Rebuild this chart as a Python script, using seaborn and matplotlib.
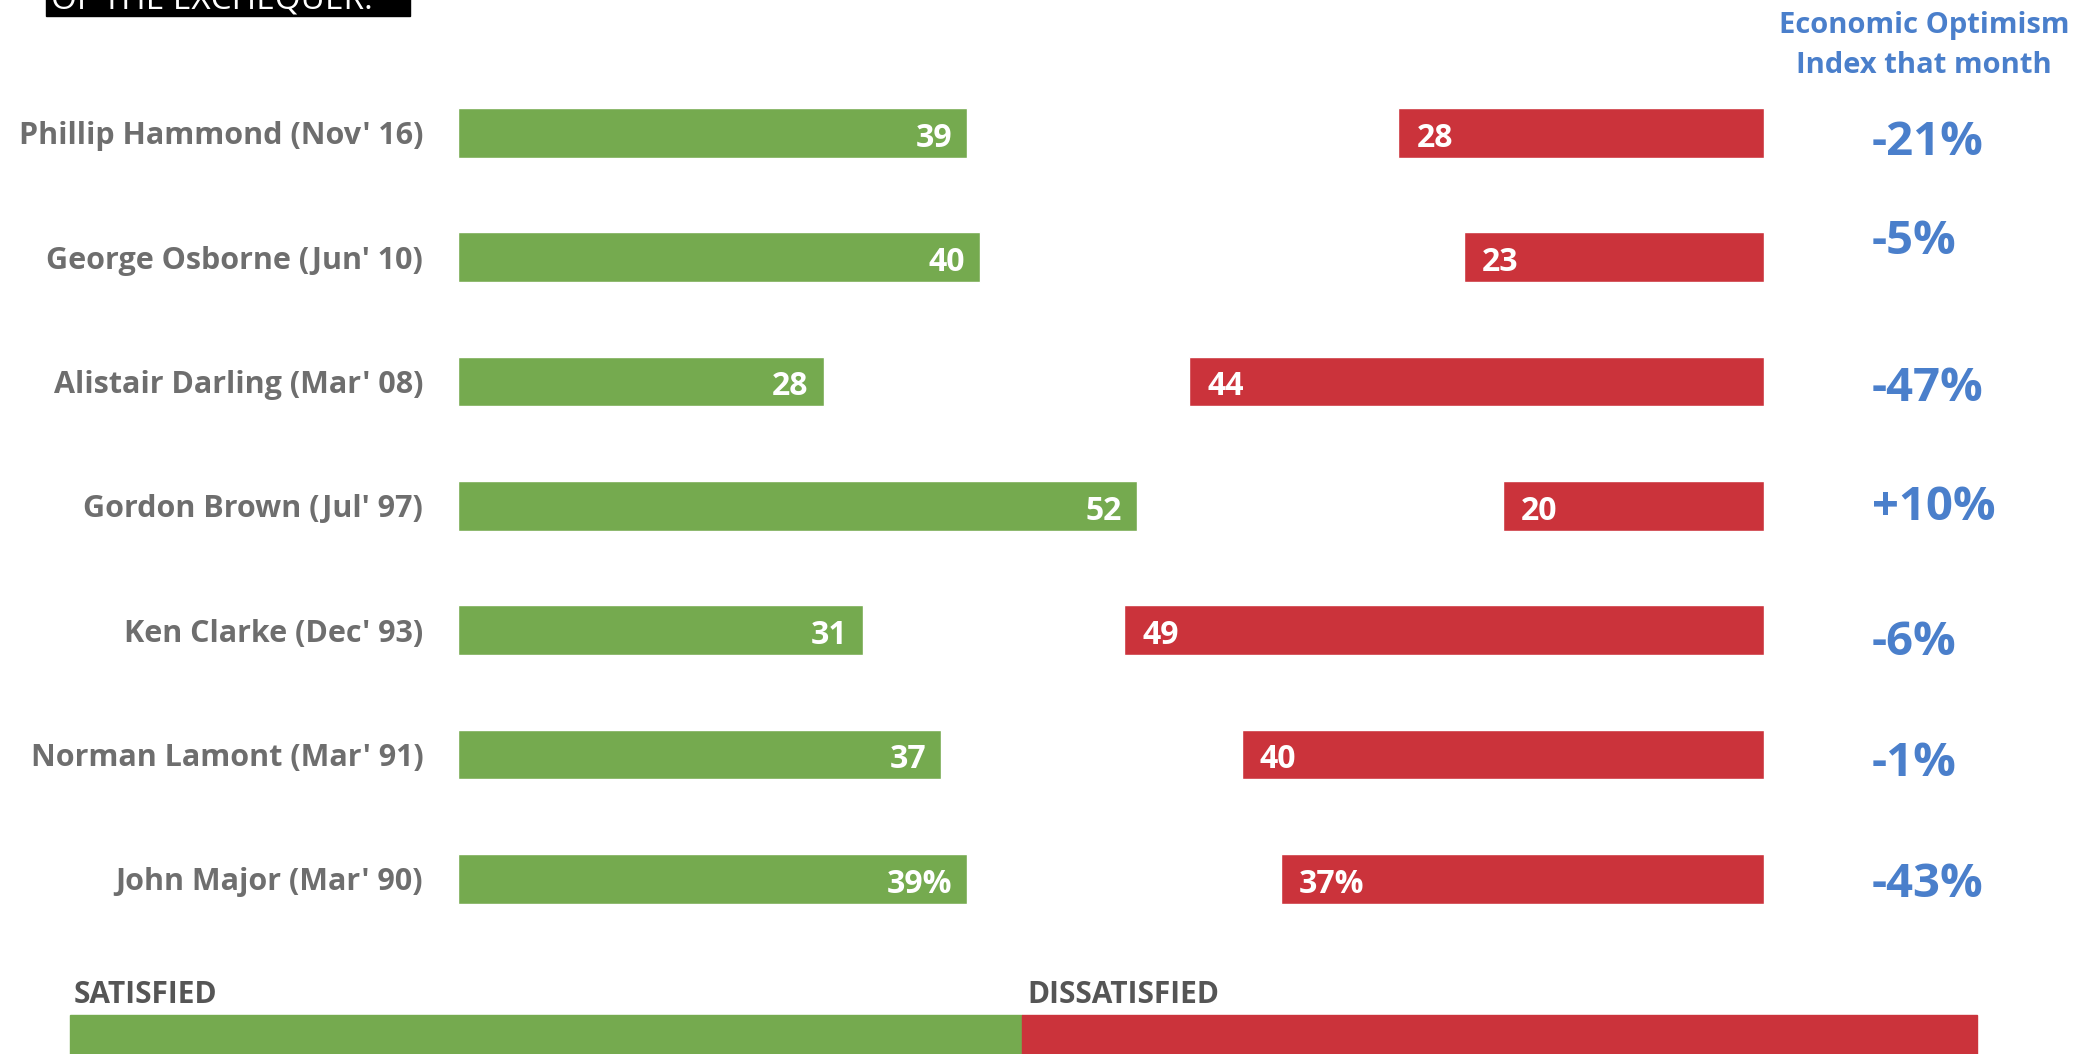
import matplotlib
matplotlib.use("Agg")
import matplotlib.pyplot as plt
import matplotlib.transforms as mtransforms
from matplotlib.patches import Rectangle
import pandas as pd
import seaborn as sns

# data (top row first)
chancellors = ["Phillip Hammond (Nov' 16)", "George Osborne (Jun' 10)",
               "Alistair Darling (Mar' 08)", "Gordon Brown (Jul' 97)",
               "Ken Clarke (Dec' 93)", "Norman Lamont (Mar' 91)",
               "John Major (Mar' 90)"]
satisfied = [39, 40, 28, 52, 31, 37, 39]
dissatisfied = [28, 23, 44, 20, 49, 40, 37]
optimism_index = ["-21%", "-5%", "-47%", "+10%", "-6%", "-1%", "-43%"]

# small vertical nudges of the index figures, in pixels (up is positive)
index_nudge = [-5, 20, -3, 3, -8, -5, -1]

GREEN = "#75AA4F"
RED = "#CB333B"
BLUE = "#4A7FCB"
GREY = "#6E6E6E"
W, H = 2100, 1054
PX = 0.72  # points per pixel at dpi 100

sns.set_style("white")
plt.rcParams["font.family"] = ["Open Sans", "DejaVu Sans"]
plt.rcParams["font.weight"] = "bold"

df = pd.DataFrame({"name": chancellors, "satisfied": satisfied,
                   "dissatisfied": dissatisfied})

fig = plt.figure(figsize=(21, 10.54), dpi=100)
ax = fig.add_axes([458 / W, 1 - 941 / H, 1306 / W, 870.5 / H])

sns.barplot(data=df, x="satisfied", y="name", color=GREEN, width=0.4,
            saturation=1, ax=ax)
ax.set_xlim(0, 100)

# dissatisfied bars grow leftwards from the right edge
ax2 = ax.twiny()
sns.barplot(data=df, x="dissatisfied", y="name", color=RED, width=0.4,
            saturation=1, ax=ax2)
ax2.set_xlim(100, 0)
ax.set_ylim(6.5, -0.5)

for a in (ax, ax2):
    sns.despine(ax=a, left=True, bottom=True, top=True, right=True)
    a.set_xlabel("")
    a.set_ylabel("")
    a.set_xticks([])
ax.tick_params(axis="y", length=0, pad=25)
ax.set_yticks(range(len(chancellors)))
ax.set_yticklabels(chancellors, color=GREY, fontsize=22, fontweight="bold")

# value labels inside the bars
last = len(chancellors) - 1
for i, (s, d) in enumerate(zip(satisfied, dissatisfied)):
    suffix = "%" if i == last else ""
    ax.annotate(f"{s}{suffix}", xy=(s, i), xytext=(-11, -14 * PX),
                textcoords="offset points", ha="right", va="baseline",
                color="white", fontsize=23, fontweight="bold")
    ax2.annotate(f"{d}{suffix}", xy=(d, i), xytext=(13, -14 * PX),
                 textcoords="offset points", ha="left", va="baseline",
                 color="white", fontsize=23, fontweight="bold")

# economic optimism column
blend = mtransforms.blended_transform_factory(fig.transFigure, ax.transData)
for i, (v, n) in enumerate(zip(optimism_index, index_nudge)):
    ax.annotate(v, xy=(1872 / W, i), xycoords=blend,
                xytext=(0, (n - 17) * PX), textcoords="offset points",
                ha="left", va="baseline", color=BLUE, fontsize=34,
                fontweight="bold", annotation_clip=False)
fig.text(1924 / W, 1 - 33 / H, "Economic Optimism", ha="center",
         va="baseline", color=BLUE, fontsize=21, fontweight="bold")
fig.text(1924 / W, 1 - 73 / H, "Index that month", ha="center",
         va="baseline", color=BLUE, fontsize=21, fontweight="bold")

# cut-off title box at the top
fig.patches.append(Rectangle((46 / W, 1 - 16 / H), 364 / W, 30 / H,
                             transform=fig.transFigure, color="black"))
fig.text(51 / W, 1 - 8 / H, "OF THE EXCHEQUER.", color="white",
         fontsize=24, fontweight="normal", va="baseline")

# legend strip at the bottom
fig.patches.append(Rectangle((70 / W, 0), 952 / W, 39 / H,
                             transform=fig.transFigure, color=GREEN))
fig.patches.append(Rectangle((1022 / W, 0), 955 / W, 39 / H,
                             transform=fig.transFigure, color=RED))
fig.text(74 / W, 1 - 1003 / H, "SATISFIED", color="#555555", fontsize=21.5,
         fontweight="bold", va="baseline")
fig.text(1027 / W, 1 - 1003 / H, "DISSATISFIED", color="#555555",
         fontsize=21.5, fontweight="bold", va="baseline")

fig.savefig("out.png", dpi=100)
